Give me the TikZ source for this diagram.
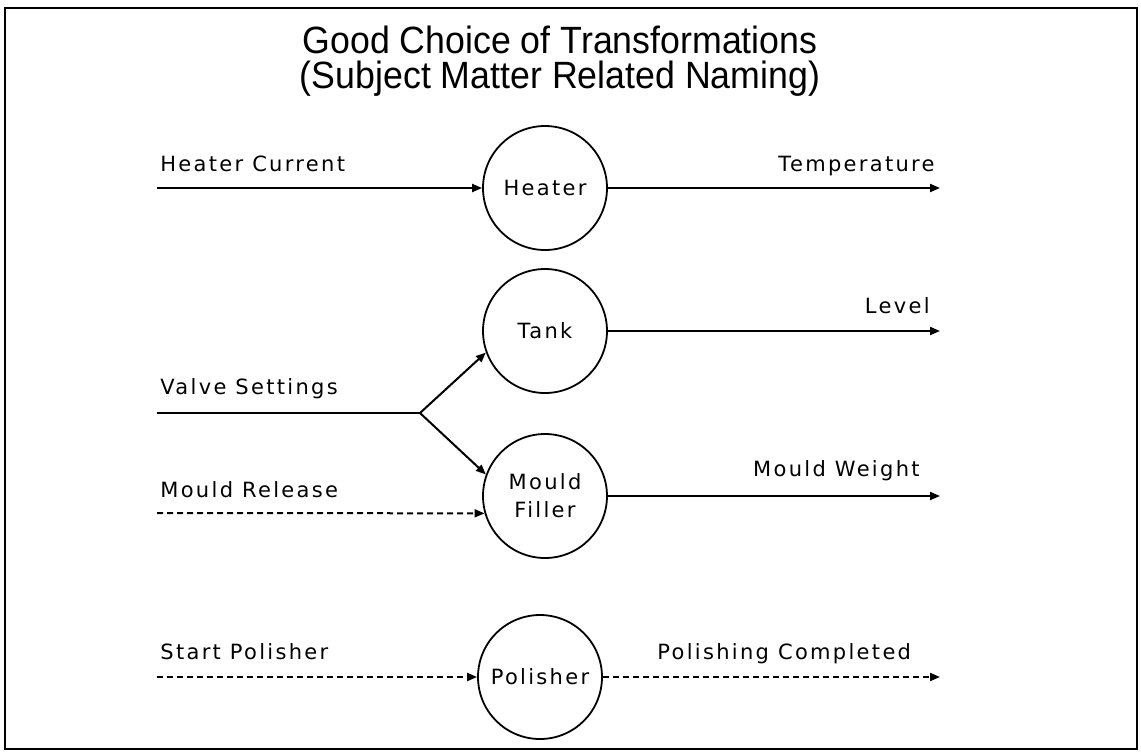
\documentclass[tikz,border=0pt]{standalone}
\usepackage{fontspec}
\setmainfont{DejaVu Sans}[LetterSpace=11]
\newfontfamily\titlefont{Liberation Sans}[FakeStretch=0.94]
\usetikzlibrary{arrows.meta,shapes}

\begin{document}
\begin{tikzpicture}
  [x=0.5pt,y=-0.5pt,
   every node/.style={font=\fontsize{10.5}{14}\selectfont},
   proc/.style={circle,draw,line width=0.9pt,minimum size=62pt,inner sep=0pt,align=center},
   lbl/.style={inner sep=0pt},
   flow/.style={line width=1pt,arrows={-{Triangle[length=5pt,width=4pt]}}},
   ctrl/.style={flow,dash pattern=on 3pt off 2pt}]
  \useasboundingbox (0,0) rectangle (1141,751);
  \draw[line width=1.3pt] (5,8) rectangle (1137,749);

  \node[anchor=base,font=\titlefont\fontsize{19}{20}\selectfont] (title) at (560,53) {Good Choice of Transformations};
  \node[anchor=base,font=\titlefont\fontsize{19}{20}\selectfont] (subtitle) at (560,88) {(Subject Matter Related Naming)};

  \node[proc] (heater) at (545,188) {Heater};
  \node[proc] (tank) at (545,331) {Tank};
  \node[proc] (filler) at (545,496) {Mould\\Filler};
  \node[proc] (polisher) at (540,677) {Polisher};

  \coordinate (hcin) at (157,188);
  \coordinate (tout) at (940,188);
  \coordinate (lvout) at (940,331);
  \coordinate (vsin) at (157,413);
  \coordinate (split) at (420,413);
  \coordinate (mrin) at (157,513);
  \coordinate (mwout) at (940,496);
  \coordinate (spin) at (157,677);
  \coordinate (pcout) at (940,677);

  \node[lbl,anchor=base west] (hclbl) at (160,171) {Heater Current};
  \node[lbl,anchor=base east] (templbl) at (935,171) {Temperature};
  \node[lbl,anchor=base east] (levlbl) at (930,313) {Level};
  \node[lbl,anchor=base west] (vslbl) at (160,394) {Valve Settings};
  \node[lbl,anchor=base west] (mrlbl) at (160,497) {Mould Release};
  \node[lbl,anchor=base east] (mwlbl) at (920,476) {Mould Weight};
  \node[lbl,anchor=base west] (splbl) at (160,659) {Start Polisher};
  \node[lbl,anchor=base west] (pclbl) at (657,659) {Polishing Completed};

  \draw[flow] (hcin) -- (heater);
  \draw[flow] (heater) -- (tout);
  \draw[flow] (tank) -- (lvout);
  \draw[line width=1pt] (vsin) -- (split);
  \draw[flow] (split) -- (tank.200);
  \draw[flow] (split) -- (filler.160);
  \draw[ctrl] (mrin) -- (filler.196);
  \draw[flow] (filler) -- (mwout);
  \draw[ctrl] (spin) -- (polisher);
  \draw[ctrl] (polisher) -- (pcout);
\end{tikzpicture}
\end{document}
